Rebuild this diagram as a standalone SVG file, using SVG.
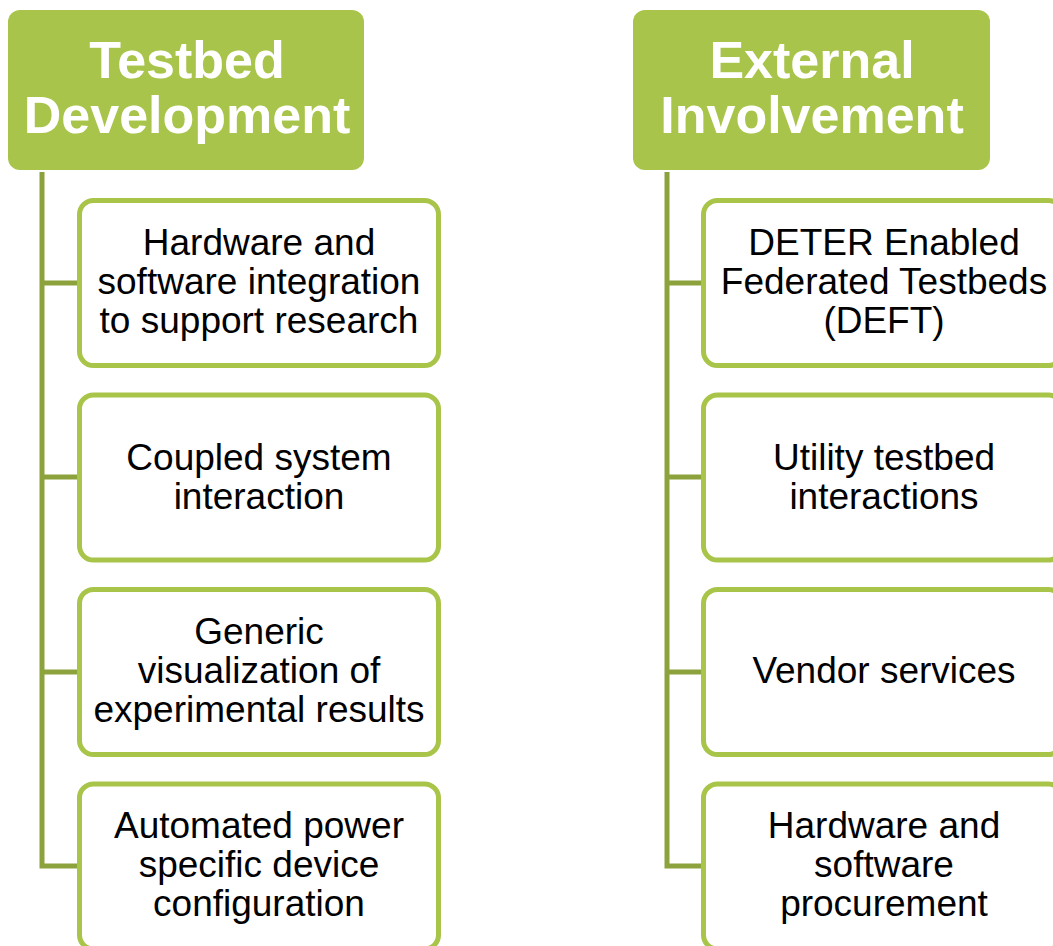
<svg xmlns="http://www.w3.org/2000/svg" width="1053" height="946" viewBox="0 0 1053 946">
<style>
.hdr{fill:#A8C44A;}
.hdrt{font-family:"Liberation Sans",Arial,sans-serif;font-weight:bold;font-size:52px;fill:#FFFFFF;text-anchor:middle;}
.box{fill:#FFFFFF;stroke:#A8C54A;stroke-width:5;}
.bt{font-family:"Liberation Sans",Arial,sans-serif;font-size:37px;fill:#000000;text-anchor:middle;}
.con{fill:none;stroke:#8CA23C;stroke-width:5;stroke-linejoin:miter;}
</style>
<rect width="1053" height="946" fill="#FFFFFF"/>
<g id="connectors">
<path class="con" d="M42 172 V866 H80 M42 283 H80 M42 477 H80 M42 672 H80"/>
<path class="con" d="M667 172 V866 H704 M667 283 H704 M667 477 H704 M667 672 H704"/>
</g>
<g id="hdr-testbed">
<rect class="hdr" x="8" y="10" width="356" height="160" rx="12"/>
<text class="hdrt" x="187" y="78">Testbed</text>
<text class="hdrt" x="187" y="133">Development</text>
</g>
<g id="hdr-external">
<rect class="hdr" x="633" y="10" width="357" height="160" rx="12"/>
<text class="hdrt" x="812" y="78">External</text>
<text class="hdrt" x="812" y="133">Involvement</text>
</g>
<g id="l1">
<rect class="box" x="79.5" y="200.5" width="359" height="165" rx="14"/>
<text class="bt" x="259" y="255">Hardware and</text>
<text class="bt" x="259" y="294">software integration</text>
<text class="bt" x="259" y="333">to support research</text>
</g>
<g id="l2">
<rect class="box" x="79.5" y="395" width="359" height="165" rx="14"/>
<text class="bt" x="259" y="470">Coupled system</text>
<text class="bt" x="259" y="509">interaction</text>
</g>
<g id="l3">
<rect class="box" x="79.5" y="589.5" width="359" height="165" rx="14"/>
<text class="bt" x="259" y="644">Generic</text>
<text class="bt" x="259" y="683">visualization of</text>
<text class="bt" x="259" y="722">experimental results</text>
</g>
<g id="l4">
<rect class="box" x="79.5" y="784" width="359" height="165" rx="14"/>
<text class="bt" x="259" y="838">Automated power</text>
<text class="bt" x="259" y="877">specific device</text>
<text class="bt" x="259" y="916">configuration</text>
</g>
<g id="r1">
<rect class="box" x="703.5" y="200.5" width="359" height="165" rx="14"/>
<text class="bt" x="884" y="255">DETER Enabled</text>
<text class="bt" x="884" y="294">Federated Testbeds</text>
<text class="bt" x="884" y="333">(DEFT)</text>
</g>
<g id="r2">
<rect class="box" x="703.5" y="395" width="359" height="165" rx="14"/>
<text class="bt" x="884" y="470">Utility testbed</text>
<text class="bt" x="884" y="509">interactions</text>
</g>
<g id="r3">
<rect class="box" x="703.5" y="589.5" width="359" height="165" rx="14"/>
<text class="bt" x="884" y="683">Vendor services</text>
</g>
<g id="r4">
<rect class="box" x="703.5" y="784" width="359" height="165" rx="14"/>
<text class="bt" x="884" y="838">Hardware and</text>
<text class="bt" x="884" y="877">software</text>
<text class="bt" x="884" y="916">procurement</text>
</g>
</svg>
